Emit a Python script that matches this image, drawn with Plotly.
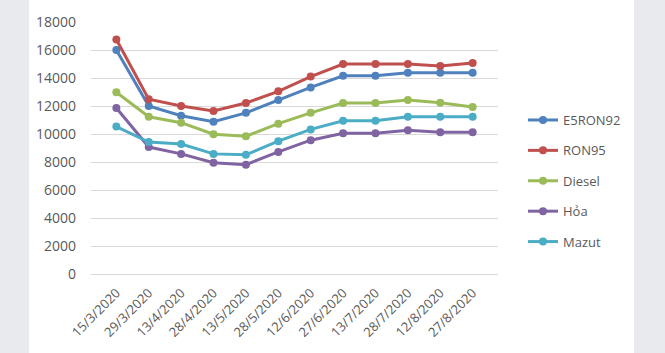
import plotly.graph_objects as go

dates = ["15/3/2020", "29/3/2020", "13/4/2020", "28/4/2020", "13/5/2020", "28/5/2020",
         "12/6/2020", "27/6/2020", "13/7/2020", "28/7/2020", "12/8/2020", "27/8/2020"]
e5ron92 = [16000, 12000, 11300, 10880, 11510, 12420, 13330, 14160, 14160, 14370, 14370, 14370]
ron95 = [16750, 12490, 12000, 11650, 12210, 13050, 14100, 15000, 15000, 15000, 14860, 15070]
diesel = [12980, 11230, 10810, 9980, 9840, 10740, 11510, 12210, 12210, 12420, 12230, 11930]
hoa = [11860, 9070, 8580, 7950, 7810, 8720, 9560, 10050, 10050, 10260, 10120, 10120]
mazut = [10530, 9420, 9280, 8580, 8510, 9490, 10330, 10950, 10950, 11230, 11230, 11230]

series = [("E5RON92", e5ron92, "#4F81BD"), ("RON95", ron95, "#C0504D"),
          ("Diesel", diesel, "#9BBB59"), ("Hỏa", hoa, "#8064A2"), ("Mazut", mazut, "#4BACC6")]

fig = go.Figure()
for name, vals, col in series:
    fig.add_trace(go.Scatter(x=dates, y=vals, name=name, mode="lines+markers",
                             legendgroup=name,
                             line=dict(color=col, width=3),
                             marker=dict(color=col, size=8)))

W, H = 665, 353
L, R, T, B = 91, 167, 16, 79
pw, ph = W - L - R, H - T - B
fig.update_layout(
    width=W, height=H,
    margin=dict(l=L, r=R, t=T, b=B),
    paper_bgcolor="#E9EAED", plot_bgcolor="white",
    font=dict(family="Open Sans", color="#595959", size=12),
    showlegend=True,
    legend=dict(x=(523 - L) / pw, y=1 - (101 - T) / ph, xanchor="left", yanchor="top",
                bgcolor="rgba(0,0,0,0)", traceorder="grouped", tracegroupgap=10.5,
                font=dict(size=13, color="#595959")),
    shapes=[dict(type="rect", xref="paper", yref="paper", layer="below",
                 x0=(29 - L) / pw, x1=(634 - L) / pw, y0=-0.6, y1=1.5,
                 fillcolor="white", line=dict(width=0))],
)
fig.update_xaxes(type="category", tickangle=-45, showgrid=False, showline=False,
                 ticks="", ticklabelstandoff=8, tickfont=dict(size=13, color="#595959"))
fig.update_yaxes(range=[0, 18000], dtick=2000, gridcolor="#D9D9D9", gridwidth=1,
                 zeroline=True, zerolinecolor="#D9D9D9", zerolinewidth=1,
                 showline=False, ticks="", tickformat="d", ticklabelstandoff=14,
                 tickfont=dict(size=14, color="#595959"))
fig.write_html("out.html")
